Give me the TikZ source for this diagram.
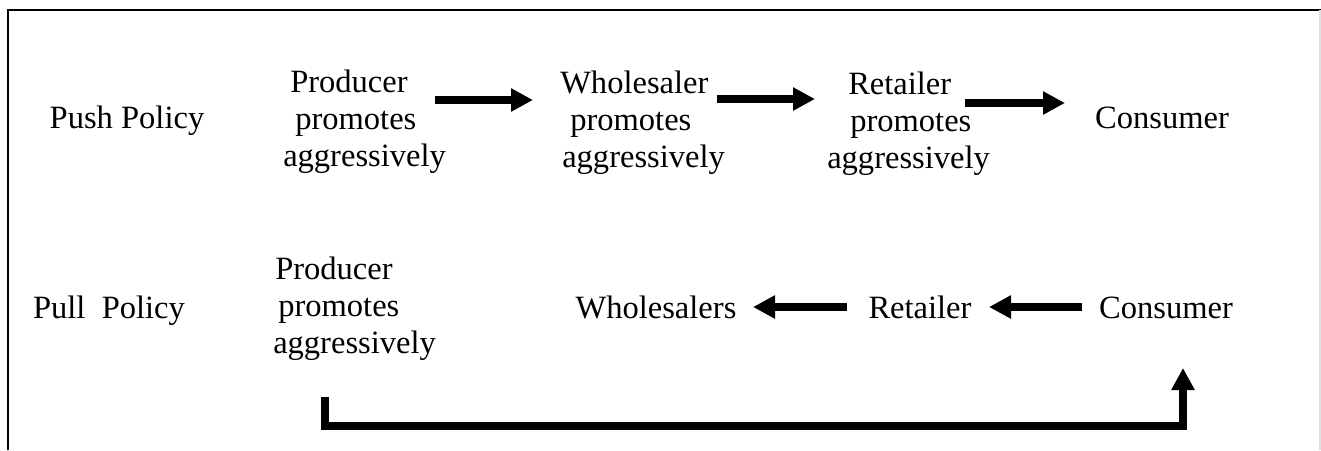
\documentclass[tikz,border=0pt]{standalone}
\usepackage{fontspec}
\setmainfont{Liberation Serif}
\usetikzlibrary{arrows.meta}
\begin{document}
\begin{tikzpicture}[x=0.75pt,y=-0.75pt,
  lbl/.style={inner sep=0pt,anchor=base,font=\fontsize{24.4}{27.75}\selectfont},
  blk/.style={lbl,align=left,anchor=base west},
  flow/.style={line width=5.3pt,line cap=butt,line join=miter,
    -{Triangle[length=16.5pt,width=16.5pt]}}]
\useasboundingbox (0,0) rectangle (1321,450);
% frame (open at the bottom)
\draw[line width=1.8pt] (8,450) -- (8,10) -- (1321,10);
\draw[line width=1pt,black!12] (1320,10) -- (1320,450);
% push row
\node[lbl] (pushlbl) at (127,128) {Push Policy};
\node[blk] (prod1) at (283,166) {\hspace*{5.25pt}Producer\\\hspace*{9pt}promotes\\aggressively};
\node[blk] (whol1) at (560,167) {Wholesaler\\\hspace*{7.5pt}promotes\\\hspace*{1.5pt}aggressively};
\node[blk] (ret1) at (827,168) {\hspace*{15.75pt}Retailer\\\hspace*{17.25pt}promotes\\aggressively};
\node[lbl] (cons1) at (1162,128) {Consumer};
% pull row
\node[lbl] (pulllbl) at (109,318) {Pull\hspace{0.5em}Policy};
\node[blk] (prod2) at (273,353) {\hspace*{1.5pt}Producer\\\hspace*{3.75pt}promotes\\aggressively};
\node[lbl] (whls2) at (656,318) {Wholesalers};
\node[lbl] (ret2) at (920,318) {Retailer};
\node[lbl] (cons2) at (1166,318) {Consumer};
% arrow end points
\coordinate (a1s) at (435,100); \coordinate (a1e) at (533,100);
\coordinate (a2s) at (717,99);  \coordinate (a2e) at (815,99);
\coordinate (a3s) at (965,103); \coordinate (a3e) at (1065,103);
\coordinate (a4s) at (1082,307); \coordinate (a4e) at (989,307);
\coordinate (a5s) at (847,307); \coordinate (a5e) at (753,307);
\coordinate (fb1) at (325,397); \coordinate (fb2) at (325,426);
\coordinate (fb3) at (1183,426); \coordinate (fb4) at (1183,368);
\draw[flow] (a1s) -- (a1e);
\draw[flow] (a2s) -- (a2e);
\draw[flow] (a3s) -- (a3e);
\draw[flow] (a4s) -- (a4e);
\draw[flow] (a5s) -- (a5e);
\draw[flow] (fb1) -- (fb2) -- (fb3) -- (fb4);
\end{tikzpicture}
\end{document}
